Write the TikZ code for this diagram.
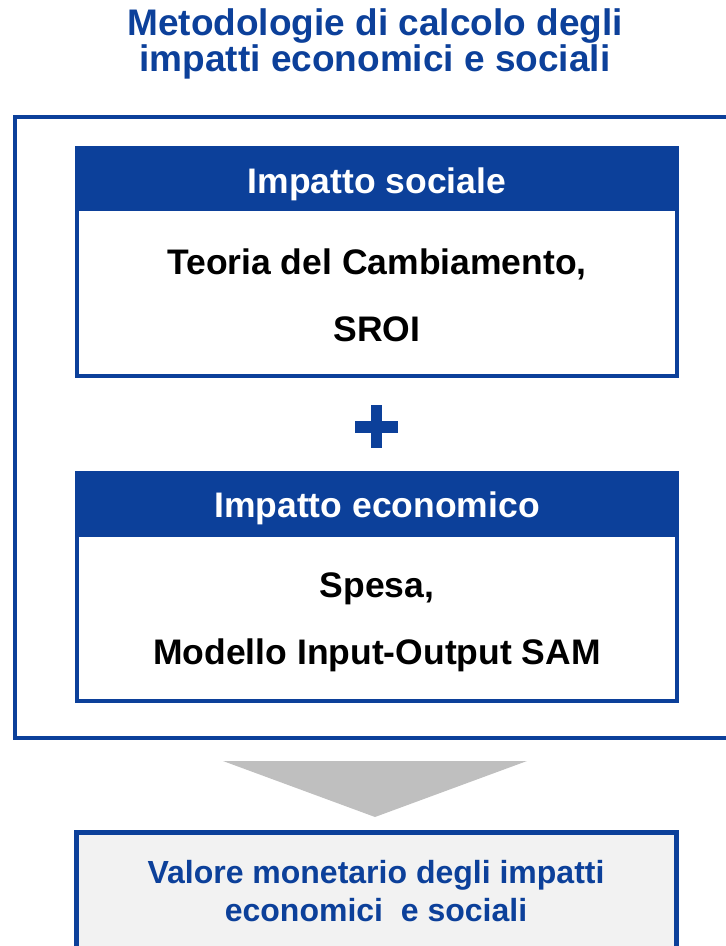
\documentclass[tikz,border=0pt]{standalone}
\usepackage{fontspec}
\setmainfont{Liberation Sans}
\definecolor{methblue}{RGB}{12,64,154}
\definecolor{arrowgrey}{RGB}{191,191,191}
\definecolor{resultgrey}{RGB}{242,242,242}
\begin{document}
\begin{tikzpicture}[x=1pt,y=-1pt]
\tikzstyle{every node}+=[inner sep=0pt]
\tikzstyle{headbox}=[fill=methblue, anchor=north west, minimum width=604pt, minimum height=65pt]
\tikzstyle{headtext}=[anchor=base, text=white, font=\bfseries\fontsize{35.5}{40}\selectfont]
\tikzstyle{bodybox}=[draw=methblue, line width=4pt, fill=white, anchor=north west, minimum width=600pt]
\tikzstyle{bodytext}=[anchor=base, font=\bfseries\fontsize{35.5}{40}\selectfont]
\tikzstyle{titletext}=[anchor=base, text=methblue, font=\bfseries\fontsize{37}{37}\selectfont]
\tikzstyle{restext}=[anchor=base, text=methblue, font=\bfseries\fontsize{32}{38}\selectfont]
\useasboundingbox (0,0) rectangle (726,946);
\clip (0,0) rectangle (726,946);
% title
\node [titletext] (title1) at (375,35) {Metodologie di calcolo degli};
\node [titletext] (title2) at (375,71) {impatti economici e sociali};
% outer frame
\draw [methblue, line width=4.5pt] (15,117) rectangle (760,738);
% social impact
\node [bodybox, minimum height=228pt] (socbox) at (75,146) {};
\node [headbox] (sochead) at (75,146) {};
\node [headtext] (socheadtext) at (377,193) {Impatto sociale};
\node [bodytext] (soctext1) at (377,274) {Teoria del Cambiamento,};
\node [bodytext] (soctext2) at (377,341) {SROI};
% plus
\fill [methblue] (355,421) rectangle (398,433);
\fill [methblue] (371,405) rectangle (382,448);
% economic impact
\node [bodybox, minimum height=228pt] (ecobox) at (75,471) {};
\node [headbox, minimum height=66pt] (ecohead) at (75,471) {};
\node [headtext] (ecoheadtext) at (377,517) {Impatto economico};
\node [bodytext] (ecotext1) at (377,597) {Spesa,};
\node [bodytext] (ecotext2) at (377,664) {Modello Input-Output SAM};
% arrow
\fill [arrowgrey] (223,761) -- (527,761) -- (375,817) -- cycle;
% result
\node [draw=methblue, line width=4.5pt, fill=resultgrey, anchor=north west, minimum width=600pt, minimum height=200pt] (resbox) at (74,830) {};
\node [restext] (restext1) at (376,883) {Valore monetario degli impatti};
\node [restext] (restext2) at (376,921) {economici~ e sociali};
\end{tikzpicture}
\end{document}
